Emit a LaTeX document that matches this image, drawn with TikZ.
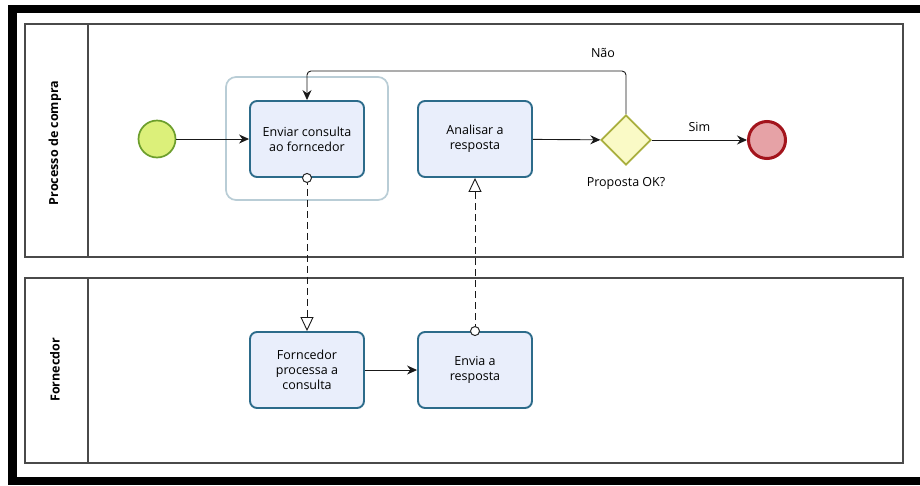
\documentclass[tikz,border=0pt]{standalone}
\usepackage{fontspec}
\setmainfont{Open Sans}
\usetikzlibrary{arrows.meta,shapes.geometric}

\definecolor{taskfill}{HTML}{E9EEFB}
\definecolor{taskline}{HTML}{2C6B8A}
\definecolor{groupline}{HTML}{B9CDD6}
\definecolor{startfill}{HTML}{DCF07A}
\definecolor{startline}{HTML}{6C9E2C}
\definecolor{endfill}{HTML}{E6A2A6}
\definecolor{endline}{HTML}{A3141C}
\definecolor{gwfill}{HTML}{FAFAC6}
\definecolor{gwline}{HTML}{A9AF3E}
\definecolor{laneline}{HTML}{4A4A4A}

\tikzset{
  txt/.style={font=\fontsize{12.5}{15}\selectfont, text=black},
  task/.style={txt, draw=taskline, fill=taskfill, line width=1.9pt,
    rounded corners=7pt, minimum width=114pt, minimum height=76pt,
    align=center, inner sep=2pt},
  startev/.style={circle, draw=startline, fill=startfill, line width=1.7pt,
    minimum size=37pt, inner sep=0pt},
  endev/.style={circle, draw=endline, fill=endfill, line width=3pt,
    minimum size=37pt, inner sep=0pt},
  gateway/.style={diamond, draw=gwline, fill=gwfill, line width=1.7pt,
    minimum width=50pt, minimum height=50pt, inner sep=0pt},
  groupbox/.style={draw=groupline, line width=1.7pt, rounded corners=10pt},
  lane/.style={draw=laneline, line width=1.1pt},
  lanelabel/.style={font=\fontsize{12.5}{14}\bfseries\selectfont, rotate=90},
  seq/.style={draw=black!90, line width=0.9pt, -{Stealth[length=10pt,width=9pt]}},
  msg/.style={draw=black!90, line width=0.9pt, dash pattern=on 7pt off 4pt,
    -{Triangle[open,length=14pt,width=13pt,line width=0.9pt]}},
  msgsrc/.style={draw=black!85, fill=white, line width=1pt},
  lbl/.style={txt}
}

\begin{document}
\begin{tikzpicture}[x=1pt,y=-1pt]
  \useasboundingbox (0,0) rectangle (920,485);
  \fill[white] (0,0) rectangle (920,485);

  % heavy frame on the top, left and bottom edges
  \fill[black] (8,5) rectangle (920,13);
  \fill[black] (8,5) rectangle (17,485);
  \fill[black] (8,477) rectangle (920,485);

  % swimlanes
  \draw[lane] (25,24) rectangle (903,257);
  \draw[lane] (88,24) -- (88,257);
  \draw[lane] (25,278) rectangle (903,463);
  \draw[lane] (88,278) -- (88,463);
  \node[lanelabel] (lane1) at (55,143) {Processo de compra};
  \node[lanelabel] (lane2) at (55,370) {Fornecdor};

  % group around the first task
  \draw[groupbox] (226,77) rectangle (388,200);

  % flow objects
  \node[startev] (start) at (157,139) {};
  \node[task] (enviar) at (307,139) {Enviar consulta\\ao forncedor};
  \node[task] (analisar) at (475,139) {Analisar a\\resposta};
  \node[gateway] (gw) at (626,140) {};
  \node[endev] (end) at (767,140) {};
  \node[task] (processa) at (307,370) {Forncedor\\processa a\\consulta};
  \node[task] (envia) at (475,370) {Envia a\\resposta};

  \node[lbl] (gwlabel) at (626,183) {Proposta OK?};

  % sequence flows
  \draw[seq] (start) -- (enviar);
  \draw[seq] (analisar) -- (gw);
  \draw[seq] (gw) -- node[lbl, above=5pt] (sim) {Sim} (end);
  \draw[seq, rounded corners=4pt] (gw.north) -- (626,71) -- (307,71) -- (enviar.north);
  \node[lbl] (nao) at (603,53) {Não};
  \draw[seq] (processa) -- (envia);

  % message flows
  \draw[msg] (enviar.south) -- (processa.north);
  \draw[msgsrc] (enviar.south) circle (4.5pt);
  \draw[msg] (envia.north) -- (analisar.south);
  \draw[msgsrc] (envia.north) circle (4.5pt);
\end{tikzpicture}
\end{document}
